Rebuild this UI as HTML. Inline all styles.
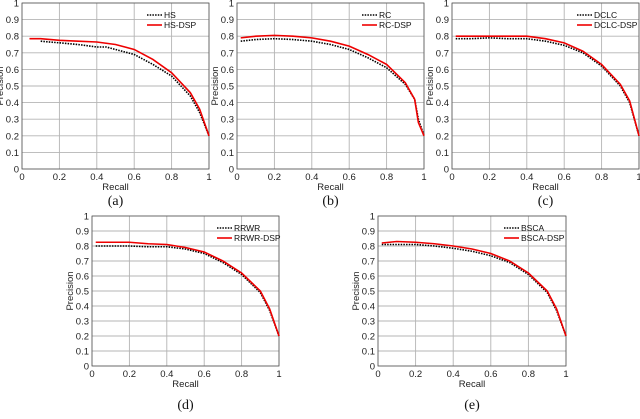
<!DOCTYPE html>
<html><head><meta charset="utf-8"><style>
html,body{margin:0;padding:0;background:#fff;width:640px;height:419px;overflow:hidden}
svg{font-family:"Liberation Sans",sans-serif}
</style></head><body>
<svg id="s" width="640" height="419" viewBox="0 0 640 419"></svg>
<script>
const ticks=[0,0.1,0.2,0.3,0.4,0.5,0.6,0.7,0.8,0.9,1];
const xTickLabels=["0","0.2","0.4","0.6","0.8","1"];
const xTickVals=[0,0.2,0.4,0.6,0.8,1];
const panelLabels=["(a)","(b)","(c)","(d)","(e)"];
const baseNames=["HS","RC","DCLC","RRWR","BSCA"];
const recallA=[0.04,0.1,0.2,0.3,0.4,0.5,0.6,0.7,0.8,0.9,0.95,1];
const hsDsp=[0.785,0.785,0.775,0.77,0.765,0.75,0.72,0.66,0.58,0.46,0.36,0.2];
const recallAb=[0.1,0.2,0.3,0.4,0.45,0.5,0.6,0.7,0.8,0.9,0.95,1];
const hs=[0.77,0.76,0.75,0.735,0.735,0.72,0.69,0.63,0.56,0.44,0.34,0.2];
const recallB=[0.02,0.1,0.2,0.3,0.4,0.5,0.6,0.7,0.8,0.9,0.95,0.97,1];
const rcDsp=[0.79,0.8,0.805,0.8,0.79,0.77,0.74,0.69,0.63,0.52,0.42,0.28,0.2];
const rc=[0.77,0.78,0.785,0.78,0.77,0.75,0.72,0.67,0.61,0.51,0.42,0.3,0.2];
const recallC=[0.02,0.1,0.2,0.3,0.4,0.5,0.6,0.7,0.8,0.9,0.95,1];
const dclcDsp=[0.8,0.8,0.8,0.8,0.8,0.785,0.76,0.71,0.63,0.51,0.41,0.2];
const dclc=[0.785,0.785,0.79,0.785,0.785,0.77,0.745,0.7,0.62,0.5,0.4,0.2];
const recallD=[0.02,0.1,0.2,0.3,0.4,0.5,0.6,0.7,0.8,0.9,0.95,1];
const rrwrDsp=[0.825,0.825,0.825,0.815,0.81,0.79,0.76,0.7,0.62,0.5,0.38,0.2];
const rrwr=[0.8,0.8,0.8,0.795,0.795,0.78,0.75,0.69,0.61,0.49,0.37,0.2];
const recallE=[0.02,0.1,0.2,0.3,0.4,0.5,0.6,0.7,0.8,0.9,0.95,1];
const bscaDsp=[0.82,0.83,0.825,0.815,0.8,0.78,0.75,0.7,0.62,0.5,0.38,0.2];
const bsca=[0.81,0.81,0.81,0.8,0.785,0.765,0.735,0.69,0.61,0.49,0.37,0.2];

const panels=[
 {x0:22,x1:209,y0:169,y1:3,rx:recallA,red:hsDsp,bx:recallAb,blk:hs},
 {x0:237,x1:424,y0:169,y1:3,rx:recallB,red:rcDsp,bx:recallB,blk:rc},
 {x0:452,x1:639,y0:169,y1:3,rx:recallC,red:dclcDsp,bx:recallC,blk:dclc},
 {x0:92,x1:279,y0:366,y1:216,rx:recallD,red:rrwrDsp,bx:recallD,blk:rrwr},
 {x0:378,x1:566,y0:366,y1:216,rx:recallE,red:bscaDsp,bx:recallE,blk:bsca}
];
const s=document.getElementById('s');
const NS='http://www.w3.org/2000/svg';
function mk(t,a,p){const e=document.createElementNS(NS,t);for(const k in a)e.setAttribute(k,a[k]);(p||s).appendChild(e);return e;}
panels.forEach((p,i)=>{
 const g=mk('g',{});
 
 
 const X=v=>p.x0+v*(p.x1-p.x0), Y=v=>p.y0+v*(p.y1-p.y0);
 mk('rect',{x:p.x0,y:p.y1,width:p.x1-p.x0,height:p.y0-p.y1,fill:'#fff',stroke:'none'},g);
 ticks.forEach(t=>{
  mk('line',{x1:p.x0,x2:p.x1,y1:Y(t),y2:Y(t),stroke:'#b4b4b4','stroke-width':0.9},g);
  const tl=mk('text',{x:p.x0-3,y:Y(t)+3.5,'text-anchor':'end','font-size':9.5,fill:'#222'},g);
  tl.textContent=String(t);
  
  
 });
 xTickVals.forEach((t,j)=>{
  mk('line',{x1:X(t),x2:X(t),y1:p.y1,y2:p.y0,stroke:'#b4b4b4','stroke-width':0.9},g);
  const tl=mk('text',{x:X(t),y:p.y0+11,'text-anchor':'middle','font-size':9.5,fill:'#222'},g);
  tl.textContent=xTickLabels[j];
  
  
 });
 mk('rect',{x:p.x0,y:p.y1,width:p.x1-p.x0,height:p.y0-p.y1,fill:'none',stroke:'#555','stroke-width':0.8},g);
 const bl=mk('polyline',{points:p.bx.map((v,k)=>X(v)+','+Y(p.blk[k])).join(' '),fill:'none',stroke:'#000','stroke-width':1.6,'stroke-dasharray':'1.5,1.2'},g);
 
 
 const rl=mk('polyline',{points:p.rx.map((v,k)=>X(v)+','+Y(p.red[k])).join(' '),fill:'none',stroke:'#e00','stroke-width':1.6},g);
 
 
 const lx=p.x1-62, ly=p.y1+12;
 mk('line',{x1:lx,x2:lx+15,y1:ly,y2:ly,stroke:'#000','stroke-width':1.6,'stroke-dasharray':'1.5,1.2'},g);
 mk('line',{x1:lx,x2:lx+15,y1:ly+10,y2:ly+10,stroke:'#e00','stroke-width':1.6},g);
 const t1=mk('text',{x:lx+17,y:ly+3,'font-size':8.5,fill:'#111'},g);t1.textContent=baseNames[i];
 
 
 const t2=mk('text',{x:lx+17,y:ly+13,'font-size':8.5,fill:'#111'},g);t2.textContent=baseNames[i]+'-DSP';
 
 
 const xl=mk('text',{x:(p.x0+p.x1)/2,y:p.y0+21,'text-anchor':'middle','font-size':9.5,fill:'#222'},g);xl.textContent='Recall';
 
 
 const cy=(p.y0+p.y1)/2, cx=p.x0-19;
 const yl=mk('text',{x:cx,y:cy,'text-anchor':'middle','font-size':9.5,fill:'#222',transform:'rotate(-90 '+cx+' '+cy+')'},g);yl.textContent='Precision';
 
 
 const pl=mk('text',{x:(p.x0+p.x1)/2,y:p.y0+(i<3?36:43),'text-anchor':'middle','font-size':14,fill:'#111','font-family':'Liberation Serif, serif'},g);pl.textContent=panelLabels[i];
 
 
});
</script>
</body></html>
